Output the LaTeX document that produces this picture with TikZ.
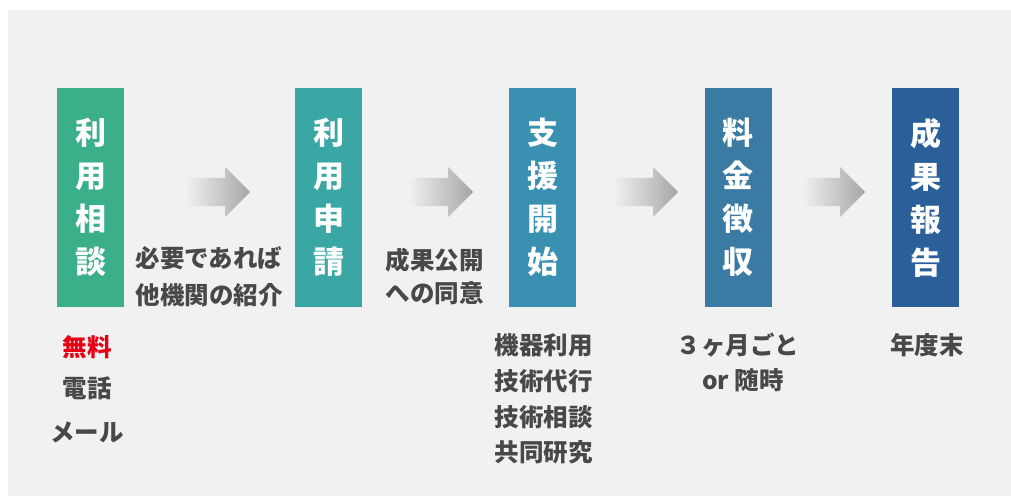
\documentclass[tikz,border=0pt]{standalone}
\usepackage{fontspec}
\setmainfont{Noto Sans CJK JP}
\definecolor{bg}{HTML}{F1F1F1}
\definecolor{c1}{HTML}{3BAE8A}
\definecolor{c2}{HTML}{3AA7A5}
\definecolor{c3}{HTML}{3A90B0}
\definecolor{c4}{HTML}{3A7AA3}
\definecolor{c5}{HTML}{2A5F9A}
\definecolor{txt}{HTML}{484848}
\definecolor{redtxt}{HTML}{E60012}
\definecolor{arrL}{HTML}{EFEFEF}
\definecolor{arrR}{HTML}{A6A6A6}
\begin{document}
\begin{tikzpicture}[x=1pt,y=-1pt,
  box/.style={rectangle, inner sep=0pt, minimum width=67pt, minimum height=219pt,
    text=white, align=center, font=\bfseries\fontsize{31pt}{43pt}\selectfont},
  lbl/.style={inner sep=0pt, text=txt, text height=19.6pt, text depth=1.2pt,
    font=\bfseries\fontsize{24.5pt}{30pt}\selectfont},
  arr/.style={left color=arrL, right color=arrR, draw=none}]
\useasboundingbox (0,0) rectangle (1011,497);
\fill[white] (0,0) rectangle (1011,497);
\fill[bg] (8,10) rectangle (1011,496);

% boxes
\node[box, fill=c1] (b1) at (90.5,197.5) {利\\用\\相\\談};
\node[box, fill=c2] (b2) at (328.5,197.5) {利\\用\\申\\請};
\node[box, fill=c3] (b3) at (542.5,197.5) {支\\援\\開\\始};
\node[box, fill=c4] (b4) at (738,197.5) {料\\金\\徴\\収};
\node[box, fill=c5] (b5) at (925.5,197.5) {成\\果\\報\\告};

% block arrows
\shade[arr] (187,178) -- (225,178) -- (225,167) -- (250,192) -- (225,217) -- (225,206) -- (187,206) -- cycle;
\shade[arr] (410,178) -- (448,178) -- (448,167) -- (473,192) -- (448,217) -- (448,206) -- (410,206) -- cycle;
\shade[arr] (615,178) -- (653,178) -- (653,167) -- (678,192) -- (653,217) -- (653,206) -- (615,206) -- cycle;
\shade[arr] (804,178) -- (840,178) -- (840,167) -- (865,192) -- (840,217) -- (840,206) -- (804,206) -- cycle;

% arrow labels
\node[lbl] (l1a) at (209,258) {必要であれば};
\node[lbl] (l1b) at (209,295) {他機関の紹介};
\node[lbl] (l2a) at (434.5,260) {成果公開};
\node[lbl] (l2b) at (434.5,293) {への同意};

% notes below boxes
\node[lbl, text=redtxt] (n1a) at (87,347) {無料};
\node[lbl] (n1b) at (87,388) {電話};
\node[lbl] (n1c) at (87,432) {メール};
\node[lbl] (n3a) at (543.5,345) {機器利用};
\node[lbl] (n3b) at (543.5,381) {技術代行};
\node[lbl] (n3c) at (543.5,417) {技術相談};
\node[lbl] (n3d) at (543.5,452) {共同研究};
\node[lbl] (n4a) at (738,345) {３ヶ月ごと};
\node[lbl] (n4b) at (743,380) {or 随時};
\node[lbl] (n5a) at (927,345) {年度末};
\end{tikzpicture}
\end{document}
